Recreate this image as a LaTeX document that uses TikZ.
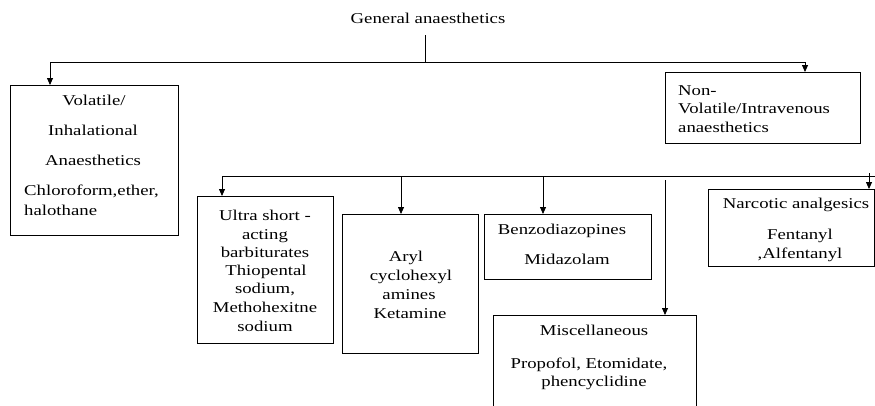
\documentclass[tikz,border=0pt]{standalone}
\usepackage{fontspec}
\setmainfont{Liberation Serif}[FakeStretch=1.25]
\usetikzlibrary{arrows.meta}
\begin{document}
\begin{tikzpicture}[x=1pt,y=-1pt,
 box/.style={draw, line width=0.8pt, inner sep=0pt, anchor=north west},
 txt/.style={inner sep=0pt, anchor=base, font=\fontsize{15}{18}\selectfont},
 txtl/.style={txt, anchor=base west},
 conn/.style={line width=0.8pt},
 arr/.style={conn, -{Triangle[length=7pt,width=6pt]}}]
\clip (0,0) rectangle (875,405);
\fill[white] (0,0) rectangle (875,405);
% boxes
\node[box, minimum width=168pt, minimum height=150pt] (vol) at (10,85) {};
\node[box, minimum width=195pt, minimum height=71pt] (nonv) at (665,72) {};
\node[box, minimum width=136pt, minimum height=147pt] (ultra) at (197,196) {};
\node[box, minimum width=136pt, minimum height=139pt] (aryl) at (342,214) {};
\node[box, minimum width=167pt, minimum height=65pt] (benzo) at (484,214) {};
\node[box, minimum width=203pt, minimum height=110pt] (misc) at (493,315) {};
\node[box, minimum width=166pt, minimum height=77pt] (narc) at (708,189) {};
% texts
\node[txt] (t0) at (428,23) {General anaesthetics};
\node[txt] (v1) at (94,105) {Volatile/};
\node[txt] (v2) at (93,135) {Inhalational};
\node[txt] (v3) at (93,165) {Anaesthetics};
\node[txtl] (v4) at (24,195) {Chloroform,ether,};
\node[txtl] (v5) at (24,215) {halothane};
\node[txtl] (n1) at (678,95) {Non-};
\node[txtl] (n2) at (678,113) {Volatile/Intravenous};
\node[txtl] (n3) at (678,132) {anaesthetics};
\node[txt] (u1) at (265,220) {Ultra short -};
\node[txt] (u2) at (265,239) {acting};
\node[txt] (u3) at (265,257) {barbiturates};
\node[txt] (u4) at (266,275) {Thiopental};
\node[txt] (u5) at (265,293) {sodium,};
\node[txt] (u6) at (265,312) {Methohexitne};
\node[txt] (u7) at (265,331) {sodium};
\node[txt] (a1) at (406,261) {Aryl};
\node[txt] (a2) at (411,280) {cyclohexyl};
\node[txt] (a3) at (409,299) {amines};
\node[txt] (a4) at (410,318) {Ketamine};
\node[txt] (b1) at (562,234) {Benzodiazopines};
\node[txt] (b2) at (567,264) {Midazolam};
\node[txt] (k1) at (796,208) {Narcotic analgesics};
\node[txt] (k2) at (800,239) {Fentanyl};
\node[txt] (k3) at (800,258) {,Alfentanyl};
\node[txt] (m1) at (594,335) {Miscellaneous};
\node[txt] (m2) at (589,368) {Propofol, Etomidate,};
\node[txt] (m3) at (594,386) {phencyclidine};
% connectors
\coordinate (j0) at (425,35);
\coordinate (j1) at (425,62);
\draw[conn] (j0) -- (j1);
\coordinate (bl) at (50,62);
\coordinate (br) at (805,62);
\draw[conn] (bl) -- (br);
\draw[arr] (bl) -- (bl |- vol.north);
\draw[arr] (br) -- (br |- nonv.north);
\coordinate (cl) at (222,176);
\coordinate (cr) at (875,176);
\draw[conn] (cl) -- (cr);
\draw[arr] (cl) -- (cl |- ultra.north);
\coordinate (ca) at (401,176);
\draw[arr] (ca) -- (ca |- aryl.north);
\coordinate (cb) at (543,176);
\draw[arr] (cb) -- (cb |- benzo.north);
\coordinate (cm) at (665,180);
\draw[arr] (cm) -- (cm |- misc.north);
\coordinate (cn) at (869,173);
\draw[arr] (cn) -- (cn |- narc.north);
\end{tikzpicture}
\end{document}
